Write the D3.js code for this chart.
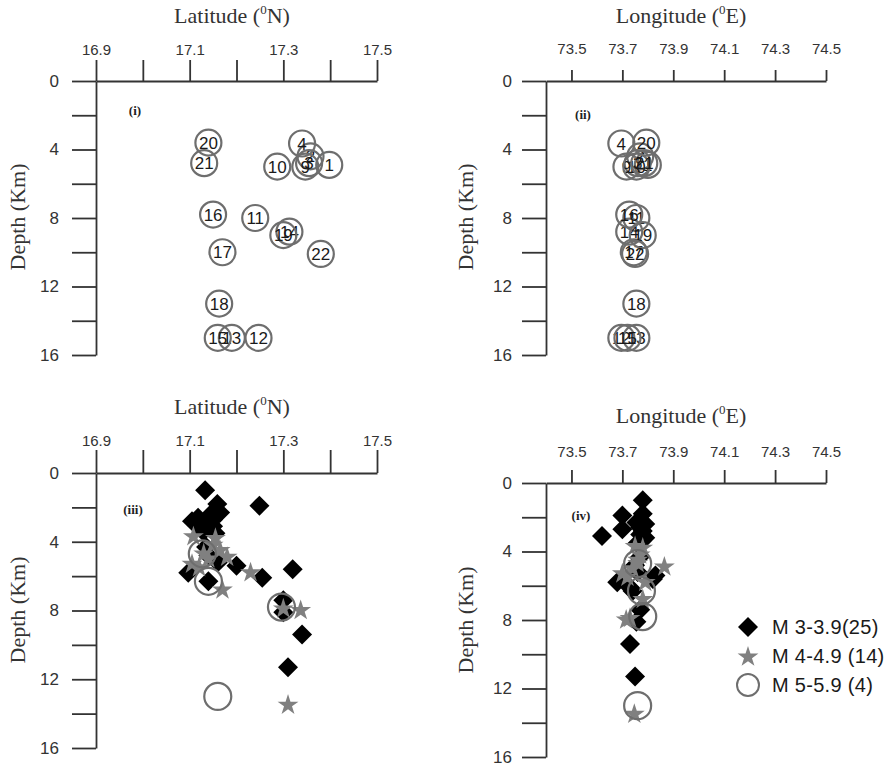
<!DOCTYPE html>
<html>
<head>
<meta charset="utf-8">
<script src="https://cdn.jsdelivr.net/npm/d3@7"></script>
<style>
  body { margin: 0; background: #fff; }
  svg { display: block; }
</style>
</head>
<body>
<svg></svg>
<script>
// Depth sections of the events: numbered events (top) and magnitude classes (bottom)
let width = 893,
  height = 766;

let svg = d3.select("svg").attr("width", width).attr("height", height);

// axis ticks
const latTicks = [16.9, 17.0, 17.1, 17.2, 17.3, 17.4, 17.5];
const latTickLabels = ["16.9", "", "17.1", "", "17.3", "", "17.5"];
const lonTicks = [73.5, 73.7, 73.9, 74.1, 74.3, 74.5];
const lonTickLabels = ["73.5", "73.7", "73.9", "74.1", "74.3", "74.5"];
const depthTicks = [0, 2, 4, 6, 8, 10, 12, 14, 16];
const depthTickLabels = ["0", "", "4", "", "8", "", "12", "", "16"];

// numbered events (panels i, ii)
const eventIds = [1, 2, 3, 4, 9, 10, 11, 12, 13, 14, 15, 16, 17, 18, 19, 20, 21, 22];
const eventLat = [17.398, 17.358, 17.355, 17.34, 17.347, 17.287, 17.24, 17.247, 17.19, 17.313, 17.16, 17.15, 17.17, 17.163, 17.30, 17.14, 17.131, 17.38];
const eventLon = [73.80, 73.77, 73.76, 73.696, 73.716, 73.755, 73.755, 73.696, 73.755, 73.727, 73.72, 73.727, 73.745, 73.755, 73.78, 73.794, 73.786, 73.75];
const eventDepth = [4.9, 4.4, 4.8, 3.65, 5.0, 5.0, 8.0, 15.0, 15.0, 8.8, 15.0, 7.8, 10.0, 13.0, 9.0, 3.6, 4.8, 10.1];

// M 3-3.9 (25)
const m3Lat = [17.133, 17.159, 17.249, 17.165, 17.145, 17.118, 17.15, 17.105, 17.137, 17.15, 17.125, 17.129, 17.155, 17.135, 17.14, 17.16, 17.2, 17.32, 17.097, 17.255, 17.30, 17.30, 17.34, 17.31, 17.14];
const m3Lon = [73.78, 73.78, 73.70, 73.755, 73.79, 73.77, 73.70, 73.78, 73.77, 73.62, 73.79, 73.775, 73.76, 73.77, 73.75, 73.76, 73.83, 73.82, 73.68, 73.73, 73.77, 73.755, 73.73, 73.75, 73.74];
const m3Depth = [1.0, 1.8, 1.9, 2.3, 2.4, 2.6, 2.7, 2.8, 3.0, 3.1, 3.2, 3.4, 3.5, 4.3, 4.8, 5.2, 5.4, 5.6, 5.8, 6.1, 7.4, 8.1, 9.4, 11.3, 6.3];

// M 4-4.9 (14)
const m4Lat = [17.108, 17.155, 17.15, 17.165, 17.13, 17.18, 17.105, 17.12, 17.23, 17.17, 17.30, 17.337, 17.31, 17.14];
const m4Lon = [73.75, 73.78, 73.77, 73.76, 73.76, 73.865, 73.70, 73.72, 73.79, 73.78, 73.73, 73.715, 73.747, 73.74];
const m4Depth = [3.7, 3.8, 4.2, 4.5, 4.7, 4.9, 5.3, 5.5, 5.8, 6.8, 7.9, 8.0, 13.5, 5.0];

// M 5-5.9 (4)
const m5Lat = [17.127, 17.14, 17.296, 17.16];
const m5Lon = [73.76, 73.775, 73.78, 73.76];
const m5Depth = [4.7, 6.3, 7.8, 13.0];

const legendLabels = ["M 3-3.9(25)", "M 4-4.9 (14)", "M 5-5.9 (4)"];

const axisColor = "#333";
const markGray = "#808080";
const circleGray = "#6e6e6e";

function makeEvents(ids, lat, lon, depth) {
  return depth.map((d, i) => ({ id: ids ? ids[i] : i, lat: lat[i], lon: lon[i], depth: d }));
}
const numbered = makeEvents(eventIds, eventLat, eventLon, eventDepth);
const m3 = makeEvents(null, m3Lat, m3Lon, m3Depth);
const m4 = makeEvents(null, m4Lat, m4Lon, m4Depth);
const m5 = makeEvents(null, m5Lat, m5Lon, m5Depth);

function panel(p) {
  let x = d3.scaleLinear().domain(p.xDomain).range([p.left, p.right]);
  let y = d3.scaleLinear().domain([0, 16]).range([p.top, p.bottom]);
  let g = svg.append("g");

  let xAxis = d3.axisTop(x)
    .tickValues(p.xTicks)
    .tickFormat((d, i) => p.xLabels[i])
    .tickSize(p.xTickLen)
    .tickSizeOuter(0)
    .tickPadding(p.xPad);
  let gx = g.append("g").attr("transform", "translate(0," + p.top + ")").call(xAxis);
  gx.selectAll("text").attr("font-size", 15).attr("fill", axisColor)
    .attr("font-family", "Liberation Sans, Arial, sans-serif");

  let yAxis = d3.axisLeft(y)
    .tickValues(depthTicks)
    .tickFormat((d, i) => depthTickLabels[i])
    .tickSize(24)
    .tickSizeOuter(0)
    .tickPadding(p.yPad);
  let gy = g.append("g").attr("transform", "translate(" + p.left + ",0)").call(yAxis);
  gy.selectAll("text").attr("font-size", 17).attr("fill", axisColor)
    .attr("font-family", "Liberation Sans, Arial, sans-serif");

  g.selectAll(".domain, .tick line").attr("stroke", axisColor).attr("stroke-width", 1.8);

  // titles
  let t = g.append("text")
    .attr("x", p.titleX).attr("y", p.titleY)
    .attr("text-anchor", "middle")
    .attr("font-family", "Liberation Serif, Times New Roman, serif")
    .attr("font-size", 22).attr("fill", axisColor);
  t.append("tspan").text(p.title + " (");
  t.append("tspan").text("0").attr("font-size", 13).attr("dy", -9);
  t.append("tspan").text(p.unit + ")").attr("dy", 9);

  g.append("text")
    .attr("transform", "translate(" + p.yLabelX + "," + p.yLabelY + ") rotate(-90)")
    .attr("text-anchor", "middle")
    .attr("font-family", "Liberation Serif, Times New Roman, serif")
    .attr("font-size", 22).attr("fill", axisColor)
    .text("Depth (Km)");

  g.append("text")
    .attr("x", p.tagX).attr("y", p.tagY)
    .attr("text-anchor", "middle")
    .attr("font-family", "Liberation Serif, Times New Roman, serif")
    .attr("font-weight", "bold")
    .attr("font-size", 13).attr("fill", "#222")
    .text(p.tag);

  return { g: g, x: x, y: y };
}

function numberedCircles(pn, key) {
  let c = pn.g.append("g").selectAll("g")
    .data(numbered)
    .enter()
    .append("g")
    .attr("transform", (d) => "translate(" + pn.x(d[key]) + "," + pn.y(d.depth) + ")");
  c.append("circle")
    .attr("r", 13)
    .attr("fill", "none")
    .attr("stroke", circleGray)
    .attr("stroke-width", 2.2);
  c.append("text")
    .attr("text-anchor", "middle")
    .attr("dy", "0.36em")
    .attr("font-family", "Liberation Sans, Arial, sans-serif")
    .attr("font-size", 17)
    .attr("fill", "#1a1a1a")
    .text((d) => d.id);
}

const diamond = d3.symbol().type(d3.symbolSquare).size(200);
const star = d3.symbol().type(d3.symbolStar).size(135);

function magnitudes(pn, key) {
  pn.g.append("g").selectAll("path")
    .data(m3)
    .enter()
    .append("path")
    .attr("d", diamond)
    .attr("transform", (d) => "translate(" + pn.x(d[key]) + "," + pn.y(d.depth) + ") rotate(45)")
    .attr("fill", "#000");
  pn.g.append("g").selectAll("path")
    .data(m4)
    .enter()
    .append("path")
    .attr("d", star)
    .attr("transform", (d) => "translate(" + pn.x(d[key]) + "," + pn.y(d.depth) + ")")
    .attr("fill", markGray);
  pn.g.append("g").selectAll("circle")
    .data(m5)
    .enter()
    .append("circle")
    .attr("cx", (d) => pn.x(d[key]))
    .attr("cy", (d) => pn.y(d.depth))
    .attr("r", 13.5)
    .attr("fill", "none")
    .attr("stroke", circleGray)
    .attr("stroke-width", 2.2);
}

let latCommon = { xDomain: [16.9, 17.5], left: 96, right: 377, xTicks: latTicks, xLabels: latTickLabels,
  title: "Latitude", unit: "N", titleX: 232, yLabelX: 25, yPad: 13 };
let lonCommon = { xDomain: [73.4, 74.5], left: 546, right: 826, xTicks: lonTicks, xLabels: lonTickLabels,
  title: "Longitude", unit: "E", titleX: 681, yLabelX: 473, yPad: 10 };

let p1 = panel(Object.assign({}, latCommon, { top: 81, bottom: 355, xTickLen: 21, xPad: 5,
  titleY: 23, yLabelY: 217, tag: "(i)", tagX: 135, tagY: 115 }));
let p2 = panel(Object.assign({}, lonCommon, { top: 81, bottom: 355, xTickLen: 11, xPad: 16,
  titleY: 23, yLabelY: 217, tag: "(ii)", tagX: 583, tagY: 119 }));
let p3 = panel(Object.assign({}, latCommon, { top: 473, bottom: 748, xTickLen: 23, xPad: 4,
  titleY: 414, yLabelY: 610, tag: "(iii)", tagX: 133, tagY: 514 }));
let p4 = panel(Object.assign({}, lonCommon, { top: 483, bottom: 757, xTickLen: 13, xPad: 13,
  titleY: 423, yLabelY: 620, tag: "(iv)", tagX: 581, tagY: 520 }));

numberedCircles(p1, "lat");
numberedCircles(p2, "lon");
magnitudes(p3, "lat");
magnitudes(p4, "lon");

// legend
let lg = svg.append("g").attr("transform", "translate(748,627)");
lg.append("path").attr("d", diamond).attr("transform", "rotate(45)").attr("fill", "#000");
lg.append("path").attr("d", star).attr("transform", "translate(0,30)").attr("fill", markGray);
lg.append("circle").attr("cy", 58).attr("r", 11).attr("fill", "none")
  .attr("stroke", circleGray).attr("stroke-width", 2);
lg.selectAll("text")
  .data(legendLabels)
  .enter()
  .append("text")
  .attr("x", 24)
  .attr("y", (d, i) => i * 29)
  .attr("dy", "0.36em")
  .attr("font-family", "Liberation Sans, Arial, sans-serif")
  .attr("font-size", 20)
  .attr("letter-spacing", 0.3)
  .attr("fill", "#1a1a1a")
  .text((d) => d);
</script>
</body>
</html>
